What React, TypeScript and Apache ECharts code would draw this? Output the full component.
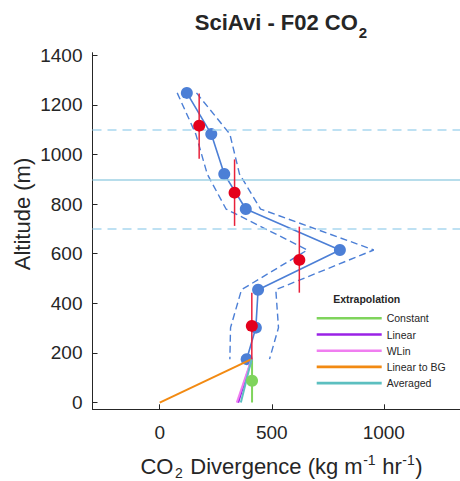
import React, { useEffect, useRef } from 'react';
import * as echarts from 'echarts';

// Flight profile (blue): altitude (m) and CO2 divergence (kg m-1 hr-1)
const altitudes = [1248, 1082, 921, 780, 615, 455, 302, 175];
const divergence = [121, 230, 288, 384, 804, 439, 429, 388];
const lowerBound = [78, 161, 212, 296, 659, 365, 316, 313];
const upperBound = [164, 313, 356, 450, 955, 518, 530, 490];

// Layer averages (red) with vertical extent
const layerAlt = [1116, 846, 575, 309];
const layerDiv = [176, 334, 623, 411];
const layerTop = [1246, 980, 709, 443];
const layerBottom = [983, 712, 443, 175];

// Reference altitudes
const dashedRefAlt = [1100, 700];
const solidRefAlt = [900];

// Extrapolation to the surface
const extrapNames = ['Constant', 'Linear', 'WLin', 'Linear to BG', 'Averaged'];
const extrapStartDiv = [412, 410, 410, 410, 410];
const extrapStartAlt = [175, 175, 175, 175, 175];
const extrapSurfaceDiv = [412, 350, 344, 0, 362];
const extrapColors = ['#7fd45c', '#9a22e6', '#f07ef0', '#f28a12', '#5cbfc0'];
const constantPoint = [412, 88];

const xTicks = [0, 500, 1000];
const yTicks = [0, 200, 400, 600, 800, 1000, 1200, 1400];

const FONT = '"Liberation Sans", Arial, Helvetica, sans-serif';
const TXT = '#262626';
const BLUE = '#4c7fd6';
const RED = '#e4001c';

function measure(text: string, font: string): number {
  const c = document.createElement('canvas');
  const ctx = c.getContext('2d')!;
  ctx.font = font;
  return ctx.measureText(text).width;
}

type Piece = { t: string; size: number; dy: number; bold?: boolean; pad?: number };

function layoutPieces(pieces: Piece[], cx: number, cy: number) {
  const widths = pieces.map(
    (p) => measure(p.t, `${p.bold ? 'bold ' : ''}${p.size}px ${FONT}`) + (p.pad || 0)
  );
  const total = widths.reduce((a, b) => a + b, 0);
  let x = cx - total / 2;
  return pieces.map((p, i) => {
    const el = {
      type: 'text',
      x: x + (p.pad || 0) / 2,
      y: cy + p.dy,
      silent: true,
      style: {
        text: p.t,
        fontSize: p.size,
        fontFamily: FONT,
        fontWeight: p.bold ? 'bold' : 'normal',
        fill: TXT,
        align: 'left',
        verticalAlign: 'middle',
      },
    };
    x += widths[i];
    return el;
  });
}

export default function App() {
  const ref = useRef<HTMLDivElement>(null);

  useEffect(() => {
    const chart = echarts.init(ref.current!, null, { renderer: 'svg' });

    const profile = altitudes.map((a, i) => [divergence[i], a]);
    const lower = altitudes.map((a, i) => [lowerBound[i], a]);
    const upper = altitudes.map((a, i) => [upperBound[i], a]);
    const layers = layerAlt.map((a, i) => [layerDiv[i], a]);
    const bars = layerAlt.map((_, i) => [layerDiv[i], layerBottom[i], layerTop[i]]);

    const extrapSeries = extrapNames.map((name, i) => ({
      name,
      type: 'line',
      data: [
        [extrapStartDiv[i], extrapStartAlt[i]],
        [extrapSurfaceDiv[i], 0],
      ],
      symbol: 'none',
      lineStyle: { color: extrapColors[i], width: 2 },
      itemStyle: { color: extrapColors[i] },
      z: 4,
    }));

    const graphic: any[] = [
      ...layoutPieces(
        [
          { t: 'SciAvi - F02 CO', size: 22, dy: 0, bold: true },
          { t: '2', size: 15, dy: 10.5, bold: true, pad: 2 },
        ],
        281.5,
        22
      ),
      ...layoutPieces(
        [
          { t: 'CO', size: 22, dy: 0 },
          { t: '2', size: 14, dy: 6, pad: 3 },
          { t: ' Divergence (kg m', size: 22, dy: 0 },
          { t: '-1', size: 14, dy: -6.5, pad: 1 },
          { t: ' hr', size: 22, dy: 0 },
          { t: '-1', size: 14, dy: -6.5, pad: 1 },
          { t: ')', size: 22, dy: 0 },
        ],
        281.5,
        466.5
      ),
      {
        type: 'text',
        x: 22.5,
        y: 214,
        rotation: Math.PI / 2,
        silent: true,
        style: {
          text: 'Altitude (m)',
          fontSize: 22,
          fontFamily: FONT,
          fill: TXT,
          align: 'center',
          verticalAlign: 'middle',
        },
      },
      {
        type: 'text',
        x: 366.7,
        y: 299,
        silent: true,
        style: {
          text: 'Extrapolation',
          fontSize: 10.5,
          fontWeight: 'bold',
          fontFamily: FONT,
          fill: TXT,
          align: 'center',
          verticalAlign: 'middle',
        },
      },
    ];

    const option: any = {
      animation: false,
      backgroundColor: '#ffffff',
      grid: { left: 92.5, top: 52.7, width: 378.8, height: 356.6, containLabel: false },
      xAxis: {
        type: 'value',
        min: -300,
        max: 1340,
        axisLine: { show: true, onZero: false, lineStyle: { color: TXT, width: 1 } },
        axisTick: { show: true, inside: true, length: 5, customValues: xTicks, lineStyle: { color: TXT } },
        axisLabel: {
          customValues: xTicks,
          formatter: (v: number) => String(v),
          color: TXT,
          fontSize: 19,
          fontFamily: FONT,
          margin: 13.5,
        },
        splitLine: { show: false },
      },
      yAxis: {
        type: 'value',
        min: -27,
        max: 1410,
        axisLine: { show: true, onZero: false, lineStyle: { color: TXT, width: 1 } },
        axisTick: { show: true, inside: true, length: 5, customValues: yTicks, lineStyle: { color: TXT } },
        axisLabel: {
          customValues: yTicks,
          formatter: (v: number) => String(v),
          color: TXT,
          fontSize: 19,
          fontFamily: FONT,
          margin: 10,
        },
        splitLine: { show: false },
      },
      legend: {
        data: extrapNames,
        orient: 'vertical',
        left: 316.7,
        top: 312.3,
        padding: 0,
        itemGap: 4.2,
        itemWidth: 65,
        itemHeight: 2.6,
        icon: 'rect',
        textStyle: { fontSize: 10.5, fontFamily: FONT, color: TXT, lineHeight: 12 },
      },
      graphic,
      series: [
        {
          name: 'refs',
          type: 'line',
          data: [],
          markLine: {
            silent: true,
            symbol: 'none',
            label: { show: false },
            data: [
              ...dashedRefAlt.map((v) => ({
                yAxis: v,
                lineStyle: { color: '#a9d7ef', width: 1.6, type: [9, 6] },
              })),
              ...solidRefAlt.map((v) => ({
                yAxis: v,
                lineStyle: { color: '#9fd2e4', width: 1.6, type: 'solid' },
              })),
            ],
          },
          z: 1,
        },
        {
          name: 'lower',
          type: 'line',
          data: lower,
          symbol: 'none',
          lineStyle: { color: BLUE, width: 1.4, type: [7, 4] },
          z: 2,
        },
        {
          name: 'upper',
          type: 'line',
          data: upper,
          symbol: 'none',
          lineStyle: { color: BLUE, width: 1.4, type: [7, 4] },
          z: 2,
        },
        {
          name: 'profile',
          type: 'line',
          data: profile,
          symbol: 'circle',
          symbolSize: 12,
          lineStyle: { color: BLUE, width: 1.6 },
          itemStyle: { color: BLUE, borderWidth: 0 },
          z: 3,
        },
        ...extrapSeries,
        {
          name: 'bars',
          type: 'custom',
          data: bars,
          encode: { x: 0, y: [1, 2] },
          renderItem: (params: any, api: any) => {
            const x = api.value(0);
            const p1 = api.coord([x, api.value(1)]);
            const p2 = api.coord([x, api.value(2)]);
            return {
              type: 'line',
              shape: { x1: p1[0], y1: p1[1], x2: p2[0], y2: p2[1] },
              style: { stroke: '#e8213a', lineWidth: 1.5 },
            };
          },
          z: 5,
        },
        {
          name: 'layers',
          type: 'scatter',
          data: layers,
          symbol: 'circle',
          symbolSize: 12,
          itemStyle: { color: RED, opacity: 1 },
          z: 6,
        },
        {
          name: 'constantPoint',
          type: 'scatter',
          data: [constantPoint],
          symbol: 'circle',
          symbolSize: 12,
          itemStyle: { color: extrapColors[0], opacity: 1 },
          z: 6,
        },
      ],
    };

    chart.setOption(option);
    return () => chart.dispose();
  }, []);

  return (
    <div
      ref={ref}
      style={{ position: 'absolute', left: 0, top: 0, width: 460, height: 481, overflow: 'hidden' }}
    />
  );
}
